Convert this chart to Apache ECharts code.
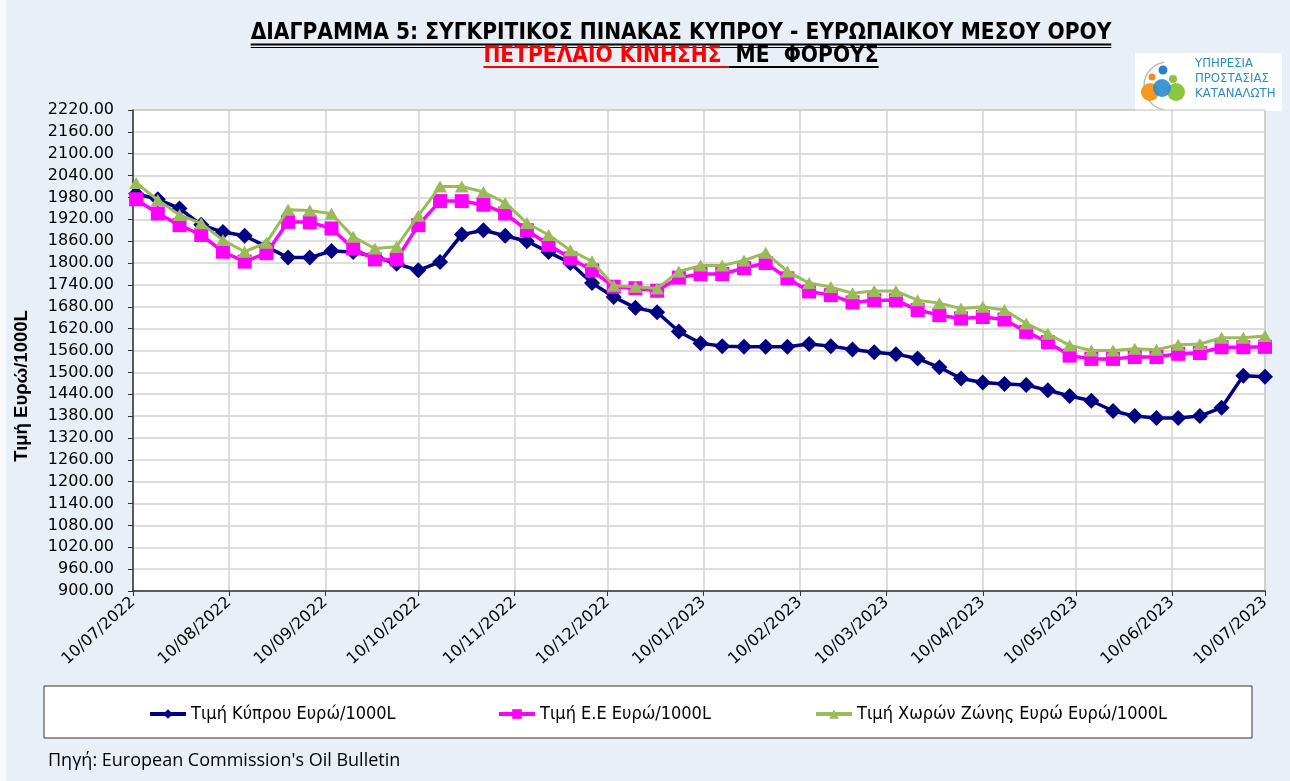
<!DOCTYPE html>
<html><head><meta charset="utf-8">
<script src="https://cdn.jsdelivr.net/npm/echarts@6/dist/echarts.min.js"></script>
<style>html,body{margin:0;padding:0;background:#fff;}#c{width:1290px;height:781px;}</style>
</head><body><div id="c"></div>
<script>
// ---- DATA ----
const dates = ['2022-07-11','2022-07-18','2022-07-25','2022-08-01','2022-08-08','2022-08-15','2022-08-22','2022-08-29',
'2022-09-05','2022-09-12','2022-09-19','2022-09-26','2022-10-03','2022-10-10','2022-10-17','2022-10-24','2022-10-31',
'2022-11-07','2022-11-14','2022-11-21','2022-11-28','2022-12-05','2022-12-12','2022-12-19','2022-12-26',
'2023-01-02','2023-01-09','2023-01-16','2023-01-23','2023-01-30','2023-02-06','2023-02-13','2023-02-20','2023-02-27',
'2023-03-06','2023-03-13','2023-03-20','2023-03-27','2023-04-03','2023-04-10','2023-04-17','2023-04-24',
'2023-05-01','2023-05-08','2023-05-15','2023-05-22','2023-05-29','2023-06-05','2023-06-12','2023-06-19','2023-06-26',
'2023-07-03','2023-07-10'];
const cyprus = [1990,1975,1950,1905,1885,1875,1845,1815,1815,1833,1830,1818,1798,1780,1803,1878,1890,1875,1860,1830,1800,1745,1707,1677,1665,1612,1580,1572,1570,1570,1570,1578,1572,1563,1555,1550,1538,1514,1483,1472,1468,1465,1451,1435,1422,1394,1380,1375,1375,1380,1403,1491,1488];
const eu = [1975,1936,1904,1877,1831,1804,1827,1913,1912,1895,1840,1810,1810,1904,1970,1970,1960,1936,1890,1850,1813,1780,1735,1731,1724,1760,1770,1770,1786,1800,1758,1722,1712,1692,1698,1698,1671,1657,1648,1652,1645,1611,1583,1546,1537,1537,1542,1542,1551,1553,1569,1569,1570];
const euroArea = [2020,1973,1932,1909,1863,1831,1856,1946,1944,1935,1872,1840,1845,1930,2010,2010,1995,1965,1910,1877,1835,1805,1738,1735,1730,1777,1793,1793,1807,1828,1777,1745,1734,1717,1723,1723,1698,1690,1675,1680,1671,1634,1606,1574,1560,1560,1565,1562,1576,1578,1595,1595,1600];
const tickDates = ['2022-07-10','2022-08-10','2022-09-10','2022-10-10','2022-11-10','2022-12-10','2023-01-10',
'2023-02-10','2023-03-10','2023-04-10','2023-05-10','2023-06-10','2023-07-10'];
const seriesNames = ['Τιμή Κύπρου Ευρώ/1000L','Τιμή Ε.Ε Ευρώ/1000L','Τιμή Χωρών Ζώνης Ευρώ Ευρώ/1000L'];
const titleLine1 = 'ΔΙΑΓΡΑΜΜΑ 5: ΣΥΓΚΡΙΤΙΚΟΣ ΠΙΝΑΚΑΣ ΚΥΠΡΟΥ - ΕΥΡΩΠΑΙΚΟΥ ΜΕΣΟΥ ΟΡΟΥ';
const titleRed = 'ΠΕΤΡΕΛΑΙΟ ΚΙΝΗΣΗΣ ';
const titleBlack = ' ΜΕ  ΦΟΡΟΥΣ';
const yAxisTitle = 'Τιμή Ευρώ/1000L';
const sourceText = "Πηγή: European Commission's Oil Bulletin";
const logoLines = ['ΥΠΗΡΕΣΙΑ','ΠΡΟΣΤΑΣΙΑΣ','ΚΑΤΑΝΑΛΩΤΗ'];

// ---- BUILD ----
const ts = d => Date.parse(d);
const tickTimes = tickDates.map(ts);
const pad = n => (n < 10 ? '0' : '') + n;
const fmtDate = v => { const d = new Date(v); return pad(d.getUTCDate()) + '/' + pad(d.getUTCMonth() + 1) + '/' + d.getUTCFullYear(); };

const narrow = "'Liberation Sans Narrow','DejaVu Sans Condensed',sans-serif";
const ctx = document.createElement('canvas').getContext('2d');
function tw(text, font) { ctx.font = font; return ctx.measureText(text).width; }

const t1Font = "bold 22.5px " + narrow;
const w1 = tw(titleLine1, t1Font);
const wr = tw(titleRed, t1Font), wb = tw(titleBlack, t1Font);
const cx = 681;
const x2 = cx - (wr + wb) / 2;

const colors = ['#000080', '#FF00FF', '#9BBB59'];
const symbols = ['diamond', 'rect', 'triangle'];
const symSizes = [[16, 16], [14, 14], [14, 12]];
const lineW = [3.5, 3.5, 3];
const values = [cyprus, eu, euroArea];

const chart = echarts.init(document.getElementById('c'), null, { renderer: 'canvas' });
const option = {
  animation: false,
  backgroundColor: '#E9EFF7',
  grid: { left: 133, right: 25, top: 110, bottom: 190, show: true, backgroundColor: '#fff', borderColor: '#999', borderWidth: 1 },
  xAxis: {
    type: 'value', min: tickTimes[0], max: tickTimes[tickTimes.length - 1],
    axisLine: { onZero: false, lineStyle: { color: '#333', width: 1.5 } },
    axisTick: { show: true, customValues: tickTimes, length: 5, lineStyle: { color: '#333' } },
    axisLabel: { customValues: tickTimes, rotate: 42, formatter: fmtDate, fontFamily: 'DejaVu Sans', fontSize: 16, color: '#000', margin: 9 },
    splitLine: { show: true, lineStyle: { color: '#D3D3D3', width: 1.5 } }
  },
  yAxis: {
    type: 'value', min: 900, max: 2220, interval: 60,
    axisLine: { show: true, lineStyle: { color: '#333', width: 1.5 } },
    axisTick: { show: true, length: 5, lineStyle: { color: '#333' } },
    axisLabel: { formatter: v => v.toFixed(2), fontFamily: 'DejaVu Sans', fontSize: 16, color: '#000', margin: 19 },
    splitLine: { show: true, lineStyle: { color: '#D3D3D3', width: 1.5 } }
  },
  legend: [0, 1, 2].map(i => ({
    data: [seriesNames[i]], left: [143, 492, 809][i], top: 700, itemWidth: 36, itemHeight: 12, itemGap: 0,
    lineStyle: { width: 4 },
    textStyle: { fontFamily: narrow, fontSize: 18, color: '#000' }
  })),
  series: [0, 1, 2].map(i => ({
    name: seriesNames[i], type: 'line', z: 2 + i,
    data: dates.map((d, k) => [ts(d), values[i][k]]),
    symbol: symbols[i], symbolSize: symSizes[i], showSymbol: true,
    lineStyle: { color: colors[i], width: lineW[i] },
    itemStyle: { color: colors[i] }
  })),
  graphic: [
    { type: 'rect', shape: { x: 0, y: 0, width: 6, height: 781 }, style: { fill: '#F8FAFD' } },
    { type: 'rect', z: -1, shape: { x: 44, y: 686, width: 1208, height: 52 }, style: { fill: '#fff', stroke: '#333', lineWidth: 1 } },
    { type: 'text', x: cx, y: 33, style: { text: titleLine1, font: t1Font, fill: '#000', textAlign: 'center', textVerticalAlign: 'middle' } },
    { type: 'line', shape: { x1: cx - w1 / 2, y1: 44.5, x2: cx + w1 / 2, y2: 44.5 }, style: { stroke: '#000', lineWidth: 2 } },
    { type: 'line', shape: { x1: cx - w1 / 2, y1: 47.5, x2: cx + w1 / 2, y2: 47.5 }, style: { stroke: '#000', lineWidth: 1 } },
    { type: 'text', x: x2, y: 56, style: { text: titleRed, font: t1Font, fill: '#FF0000', textAlign: 'left', textVerticalAlign: 'middle' } },
    { type: 'text', x: x2 + wr, y: 56, style: { text: titleBlack, font: t1Font, fill: '#000', textAlign: 'left', textVerticalAlign: 'middle' } },
    { type: 'line', shape: { x1: x2, y1: 67, x2: x2 + wr, y2: 67 }, style: { stroke: '#FF0000', lineWidth: 2 } },
    { type: 'line', shape: { x1: x2 + wr, y1: 67, x2: x2 + wr + wb, y2: 67 }, style: { stroke: '#000', lineWidth: 2 } },
    // y axis title
    { type: 'text', x: 22, y: 386, rotation: Math.PI / 2, style: { text: yAxisTitle, font: "bold 18.5px 'Liberation Sans'", fill: '#000', textAlign: 'center', textVerticalAlign: 'middle' } },
    // logo
    { type: 'rect', shape: { x: 1135, y: 53, width: 147, height: 58 }, style: { fill: '#fff' } },
    { type: 'arc', shape: { cx: 1168, cy: 86, r: 24, startAngle: Math.PI * 0.55, endAngle: Math.PI * 1.45 }, style: { stroke: '#bbb', lineWidth: 1.5, fill: null } },
    { type: 'circle', shape: { cx: 1150, cy: 92, r: 9 }, style: { fill: '#F39A1E' } },
    { type: 'circle', shape: { cx: 1176, cy: 92, r: 9 }, style: { fill: '#8CC63F' } },
    { type: 'circle', shape: { cx: 1162, cy: 88, r: 9 }, style: { fill: '#2B8CD0', opacity: 0.9 } },
    { type: 'circle', shape: { cx: 1163, cy: 70, r: 4.5 }, style: { fill: '#2B7FC3' } },
    { type: 'circle', shape: { cx: 1173, cy: 79, r: 4 }, style: { fill: '#8CC63F' } },
    { type: 'circle', shape: { cx: 1152, cy: 77, r: 3.5 }, style: { fill: '#F08A24' } }
  ].concat(logoLines.map((t, i) => ({
    type: 'text', x: 1195, y: 64 + i * 15, style: { text: t, font: "13px " + narrow, fill: '#2C8EC0', textAlign: 'left', textVerticalAlign: 'middle' }
  }))).concat([
    { type: 'text', x: 48, y: 761, style: { text: sourceText, font: "18px 'Open Sans'", fill: '#000', textAlign: 'left', textVerticalAlign: 'middle' } }
  ])
};
chart.setOption(option);
</script>
</body></html>
